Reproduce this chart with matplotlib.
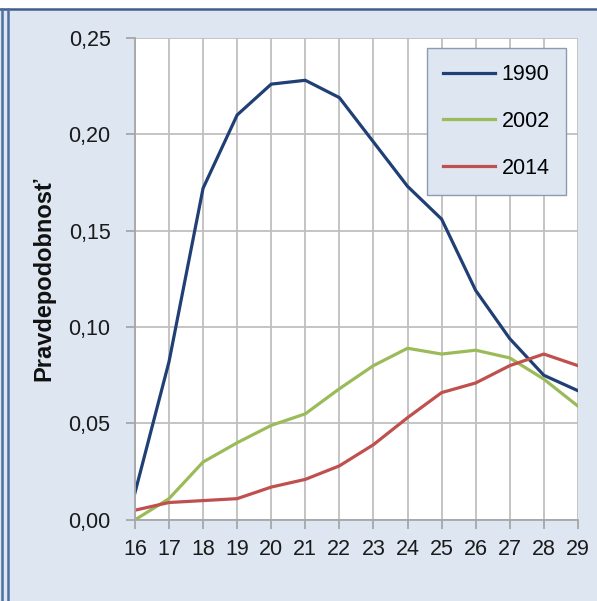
import numpy as np
import matplotlib.pyplot as plt
from matplotlib.patches import Rectangle
from matplotlib.lines import Line2D

plt.rcParams['font.family'] = ['Liberation Sans', 'DejaVu Sans']

vek = [16, 17, 18, 19, 20, 21, 22, 23, 24, 25, 26, 27, 28, 29]
p1990 = [0.014, 0.082, 0.172, 0.210, 0.226, 0.228, 0.219, 0.196, 0.173, 0.156, 0.119, 0.094, 0.075, 0.067]
p2002 = [0.000, 0.011, 0.030, 0.040, 0.049, 0.055, 0.068, 0.080, 0.089, 0.086, 0.088, 0.084, 0.073, 0.059]
p2014 = [0.005, 0.009, 0.010, 0.011, 0.017, 0.021, 0.028, 0.039, 0.053, 0.066, 0.071, 0.080, 0.086, 0.080]
roky = ['1990', '2002', '2014']
farby = ['#1f3f75', '#9bbb59', '#c0504d']

fig = plt.figure(figsize=(5.97, 6.01), dpi=100)
fig.patch.set_facecolor('#dde6f1')

# biely pruh hore + ciary ramika (hore a dvojita vlavo)
fig.add_artist(Rectangle((0, 0.985), 1, 0.015, transform=fig.transFigure,
                         facecolor='white', edgecolor='none'))
fig.add_artist(Line2D([0, 1], [0.985, 0.985], transform=fig.transFigure,
                      color='#3f5f8f', linewidth=1.8))
fig.add_artist(Line2D([0.003, 0.003], [0, 0.985], transform=fig.transFigure,
                      color='#4f6f9f', linewidth=1.8))
fig.add_artist(Line2D([0.014, 0.014], [0, 0.985], transform=fig.transFigure,
                      color='#4f6f9f', linewidth=1.8))

ax = fig.add_axes([0.226, 0.135, 0.742, 0.802])
ax.set_facecolor('white')

for y, c, r in zip([p1990, p2002, p2014], farby, roky):
    ax.plot(vek, y, color=c, linewidth=2.3, label=r)

ax.set_xlim(16, 29)
ax.set_ylim(0, 0.25)
ax.set_xticks(vek)
ax.set_yticks([0, 0.05, 0.10, 0.15, 0.20, 0.25])
ax.set_yticklabels(['0,00', '0,05', '0,10', '0,15', '0,20', '0,25'])
ax.grid(True, color='#bfbfbf', linewidth=1.3)
ax.set_axisbelow(True)
for s in ['top', 'right']:
    ax.spines[s].set_visible(False)
for s in ['left', 'bottom']:
    ax.spines[s].set_color('#a6a6a6')
    ax.spines[s].set_linewidth(1.3)
ax.tick_params(axis='both', colors='#a6a6a6', length=6.5, width=1.3, labelsize=15.5,
               labelcolor='#1a1a1a')
ax.tick_params(axis='y', pad=11)
ax.tick_params(axis='x', pad=7)
ax.set_ylabel('Pravdepodobnosť', fontsize=17, fontweight='bold', labelpad=9,
              color='#111111')

leg = ax.legend(loc='upper right', bbox_to_anchor=(0.973, 0.979), borderaxespad=0,
                fontsize=15.5, frameon=True, fancybox=False, handlelength=2.4,
                labelspacing=1.2, handletextpad=0.3, borderpad=0.75)
leg.get_frame().set_facecolor('#dde6f1')
leg.get_frame().set_edgecolor('#8c9bb0')
leg.get_frame().set_alpha(1)

fig.savefig('out.png', dpi=100, facecolor=fig.get_facecolor())
